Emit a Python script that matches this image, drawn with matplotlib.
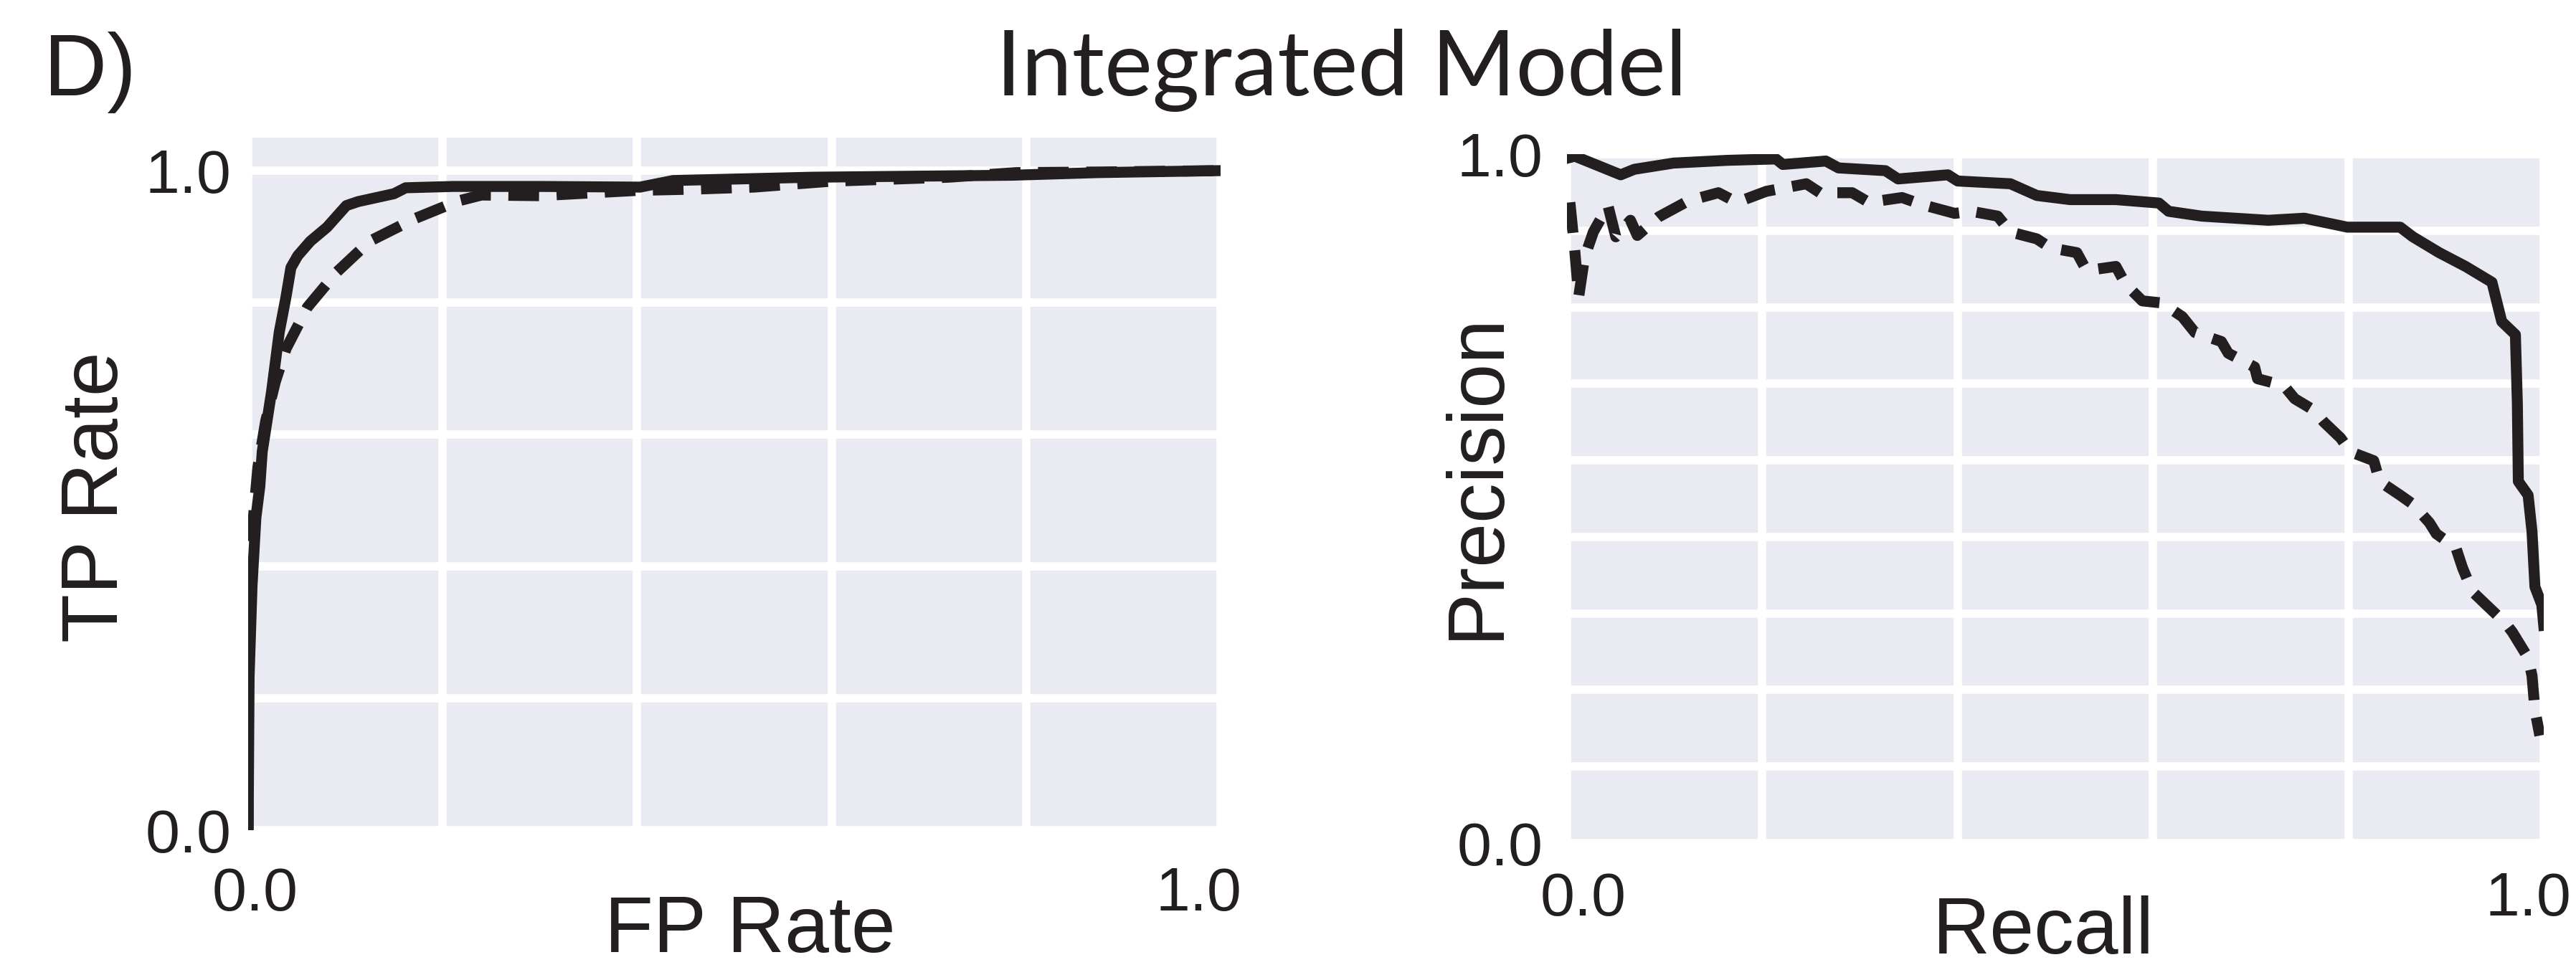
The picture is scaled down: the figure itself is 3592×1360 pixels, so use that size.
# ROC and precision-recall curves for the integrated model (panel D).

import matplotlib.pyplot as plt
from matplotlib.transforms import ScaledTranslation

# ROC curves (FP rate, TP rate)
roc_fpr_solid = [0.000, 0.001, 0.004, 0.008, 0.012, 0.0145, 0.024, 0.032, 0.039, 0.044,
                 0.051, 0.064, 0.081, 0.101, 0.113, 0.150, 0.162, 0.211, 0.300, 0.403,
                 0.437, 0.580, 0.785, 0.874, 1.000]
roc_tpr_solid = [0.000, 0.232, 0.370, 0.474, 0.521, 0.574, 0.664, 0.755, 0.809, 0.853,
                 0.871, 0.893, 0.914, 0.947, 0.953, 0.965, 0.974, 0.976, 0.976, 0.975,
                 0.985, 0.990, 0.993, 0.997, 1.000]

roc_fpr_dashed = [0.000, 0.000, 0.004, 0.010, 0.018, 0.028, 0.039, 0.061, 0.091, 0.125,
                  0.171, 0.216, 0.240, 0.300, 0.400, 0.460, 0.520, 0.600, 0.720, 0.790,
                  0.880, 1.000]
roc_tpr_dashed = [0.000, 0.300, 0.450, 0.550, 0.620, 0.680, 0.730, 0.793, 0.846, 0.893,
                  0.927, 0.954, 0.963, 0.962, 0.970, 0.972, 0.975, 0.984, 0.990, 0.997,
                  0.998, 1.000]

# Precision-recall curves (recall, precision)
pr_rec_solid = [0.000, 0.008, 0.055, 0.069, 0.109, 0.164, 0.214, 0.221, 0.265, 0.278,
                0.326, 0.339, 0.390, 0.400, 0.454, 0.481, 0.515, 0.562, 0.606, 0.616,
                0.650, 0.684, 0.718, 0.755, 0.799, 0.853, 0.866, 0.893, 0.920, 0.947,
                0.957, 0.971, 0.973, 0.974, 0.984, 0.988, 0.991, 0.998, 1.000]
pr_prec_solid = [0.994, 0.997, 0.970, 0.978, 0.987, 0.991, 0.993, 0.985, 0.990, 0.980,
                 0.976, 0.964, 0.970, 0.961, 0.957, 0.940, 0.934, 0.934, 0.929, 0.917,
                 0.910, 0.907, 0.904, 0.907, 0.894, 0.894, 0.880, 0.857, 0.837, 0.814,
                 0.757, 0.738, 0.638, 0.525, 0.505, 0.452, 0.372, 0.346, 0.316]

pr_rec_dashed = [0.003, 0.008, 0.012, 0.018, 0.027, 0.042, 0.050, 0.065, 0.072, 0.094,
                 0.124, 0.155, 0.174, 0.204, 0.245, 0.259, 0.292, 0.309, 0.343, 0.363,
                 0.397, 0.414, 0.441, 0.454, 0.481, 0.495, 0.522, 0.532, 0.562, 0.572,
                 0.589, 0.609, 0.630, 0.643, 0.670, 0.677, 0.704, 0.707, 0.734, 0.745,
                 0.765, 0.775, 0.792, 0.802, 0.826, 0.832, 0.853, 0.866, 0.883, 0.890,
                 0.910, 0.917, 0.927, 0.941, 0.961, 0.968, 0.984, 0.988, 0.991, 0.996]
pr_prec_dashed = [0.930, 0.860, 0.793, 0.850, 0.887, 0.925, 0.880, 0.904, 0.882, 0.909,
                  0.932, 0.944, 0.930, 0.946, 0.957, 0.944, 0.944, 0.930, 0.937, 0.927,
                  0.914, 0.917, 0.910, 0.887, 0.877, 0.864, 0.857, 0.831, 0.837, 0.811,
                  0.787, 0.784, 0.764, 0.741, 0.728, 0.711, 0.691, 0.674, 0.664, 0.645,
                  0.628, 0.611, 0.588, 0.568, 0.555, 0.525, 0.505, 0.492, 0.465, 0.449,
                  0.429, 0.399, 0.365, 0.346, 0.319, 0.306, 0.269, 0.243, 0.193, 0.156]

roc_xticks = [0.0, 0.2, 0.4, 0.6, 0.8, 1.0]
roc_yticks = [0.0, 0.2, 0.4, 0.6, 0.8, 1.0]
pr_xticks = [0.0, 0.2, 0.4, 0.6, 0.8, 1.0]
pr_yticks = [i / 9 for i in range(10)]


if __name__ == '__main__':

    plt.rcParams['font.family'] = ['Liberation Sans', 'DejaVu Sans']

    W, H, DPI = 3592, 1360, 100
    line_color = '#231F20'
    lw = 11

    fig = plt.figure(figsize=(W / DPI, H / DPI), dpi=DPI)
    ax0 = fig.add_axes([346 / W, 1 - 1158 / H, 1356 / W, 966 / H])
    ax1 = fig.add_axes([2185 / W, 1 - 1176 / H, 1362 / W, 961 / H])

    def style(ax, xticks, yticks, ylim, xpad, ypad):
        ax.set_facecolor('#EAEAF2')
        for spine in ax.spines.values():
            spine.set_visible(False)
        ax.set_axisbelow(True)
        ax.grid(True, color='white', linewidth=8.3)
        ax.set_xlim(0, 1)
        ax.set_ylim(*ylim)
        ax.set_xticks(xticks)
        ax.set_yticks(yticks)
        ax.set_xticklabels(['0.0'] + [''] * (len(xticks) - 2) + ['1.0'])
        ax.set_yticklabels(['0.0'] + [''] * (len(yticks) - 2) + ['1.0'])
        ax.tick_params(axis='both', length=0, labelsize=62, colors='#231F20')
        ax.tick_params(axis='x', pad=xpad)
        ax.tick_params(axis='y', pad=ypad)

    style(ax0, roc_xticks, roc_yticks, (0, 1.05), 36, 17)
    style(ax1, pr_xticks, pr_yticks, (0, 1.0), 28, 24)

    ax0.plot(roc_fpr_dashed, roc_tpr_dashed, color=line_color, lw=lw,
             dashes=(2.8, 1.6))
    ax0.plot(roc_fpr_solid, roc_tpr_solid, color=line_color, lw=lw)

    ax1.plot(pr_rec_dashed, pr_prec_dashed, color=line_color, lw=lw,
             dashes=(2.8, 1.6))
    ax1.plot(pr_rec_solid, pr_prec_solid, color=line_color, lw=lw)

    # The outer x tick labels sit slightly inside the axes ends.
    for ax, (dx0, dx1) in ((ax0, (10, -31)), (ax1, (23, -22))):
        labels = ax.get_xticklabels()
        for lab, dx in ((labels[0], dx0), (labels[-1], dx1)):
            lab.set_transform(lab.get_transform()
                              + ScaledTranslation(dx / DPI, 0, fig.dpi_scale_trans))

    ax0.set_xlabel('FP Rate', fontsize=80, color=line_color)
    ax0.xaxis.set_label_coords(0.516, -0.092)
    ax0.set_ylabel('TP Rate', fontsize=80, color=line_color)
    ax0.yaxis.set_label_coords(-0.117, 0.481)

    ax1.set_xlabel('Recall', fontsize=80, color=line_color)
    ax1.xaxis.set_label_coords(0.4875, -0.076)
    ax1.set_ylabel('Precision', fontsize=80, color=line_color)
    ax1.yaxis.set_label_coords(-0.054, 0.533)

    fig.text(1871 / W, 1 - 133 / H, 'Integrated Model', ha='center', va='baseline',
             fontsize=91, color=line_color, family=['Lato', 'DejaVu Sans'])
    fig.text(61 / W, 1 - 133 / H, 'D)', ha='left', va='baseline',
             fontsize=88, color=line_color)

    fig.savefig('out.png', dpi=DPI)
